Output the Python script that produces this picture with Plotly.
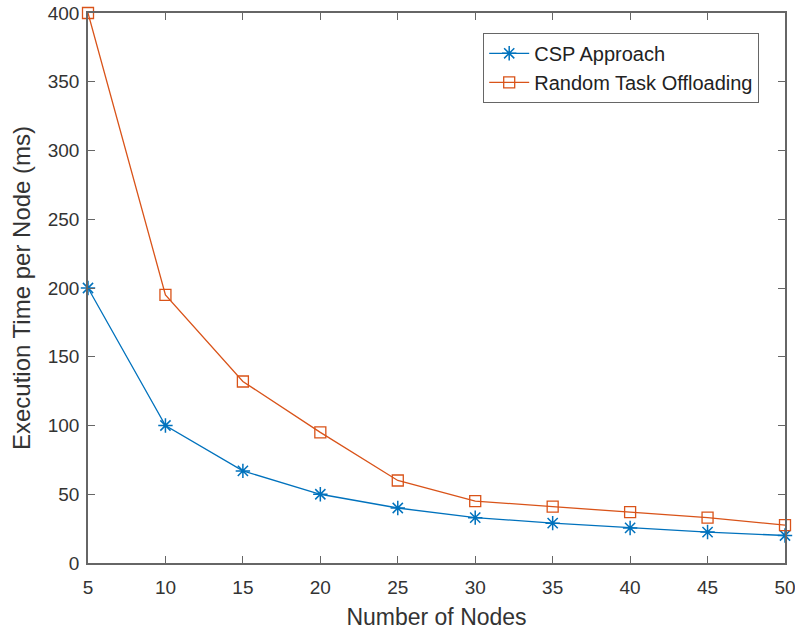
import plotly.graph_objects as go

nodes = [5, 10, 15, 20, 25, 30, 35, 40, 45, 50]
csp = [200, 100, 67, 50, 40, 33, 29, 25.5, 22.5, 20]
random_off = [400, 195, 132, 95, 60, 45, 41, 37, 33, 27.5]
x_ticks = [5, 10, 15, 20, 25, 30, 35, 40, 45, 50]
y_ticks = [0, 50, 100, 150, 200, 250, 300, 350, 400]

FONT = "Liberation Sans, Arial, sans-serif"
AX = "#666666"
TXT = "#333333"

fig = go.Figure()
fig.add_trace(go.Scatter(
    x=nodes, y=csp, mode="lines+markers", name="CSP Approach", cliponaxis=False,
    line=dict(color="#0072BD", width=1.3),
    marker=dict(symbol="asterisk-open", size=12, color="#0072BD",
                line=dict(color="#0072BD", width=1.5)),
))
fig.add_trace(go.Scatter(
    x=nodes, y=random_off, mode="lines+markers", name="Random Task Offloading",
    cliponaxis=False,
    line=dict(color="#D95319", width=1.3),
    marker=dict(symbol="square-open", size=11, color="#D95319",
                line=dict(color="#D95319", width=1.3)),
))

axis_common = dict(
    showgrid=False, zeroline=False, showline=True, linecolor=AX, linewidth=1.5,
    mirror="ticks", ticks="inside", ticklen=7, tickcolor=AX, tickwidth=1,
    tickfont=dict(family=FONT, size=19, color=TXT),
    automargin=False, ticklabeloverflow="allow",
)

fig.update_layout(
    width=795, height=633,
    margin=dict(l=88, r=10, t=13, b=70),
    paper_bgcolor="white", plot_bgcolor="white",
    xaxis=dict(range=[5, 50], tickvals=x_ticks, ticklabelstandoff=6,
               title=dict(text="Number of Nodes", font=dict(family=FONT, size=23, color=TXT),
                          standoff=12),
               **axis_common),
    yaxis=dict(range=[0, 400], tickvals=y_ticks, ticklabelstandoff=3,
               title=dict(text="Execution Time per Node (ms)", font=dict(family=FONT, size=24, color=TXT),
                          standoff=10),
               **axis_common),
    legend=dict(x=0.567, y=0.964, xanchor="left", yanchor="top",
                bordercolor=AX, borderwidth=1, bgcolor="white",
                font=dict(family=FONT, size=20, color="#222222"),
                tracegroupgap=0, itemwidth=40),
    showlegend=True,
)

fig.write_html("out.html", config={"displayModeBar": False},
               post_script="document.body.style.margin='0';")
